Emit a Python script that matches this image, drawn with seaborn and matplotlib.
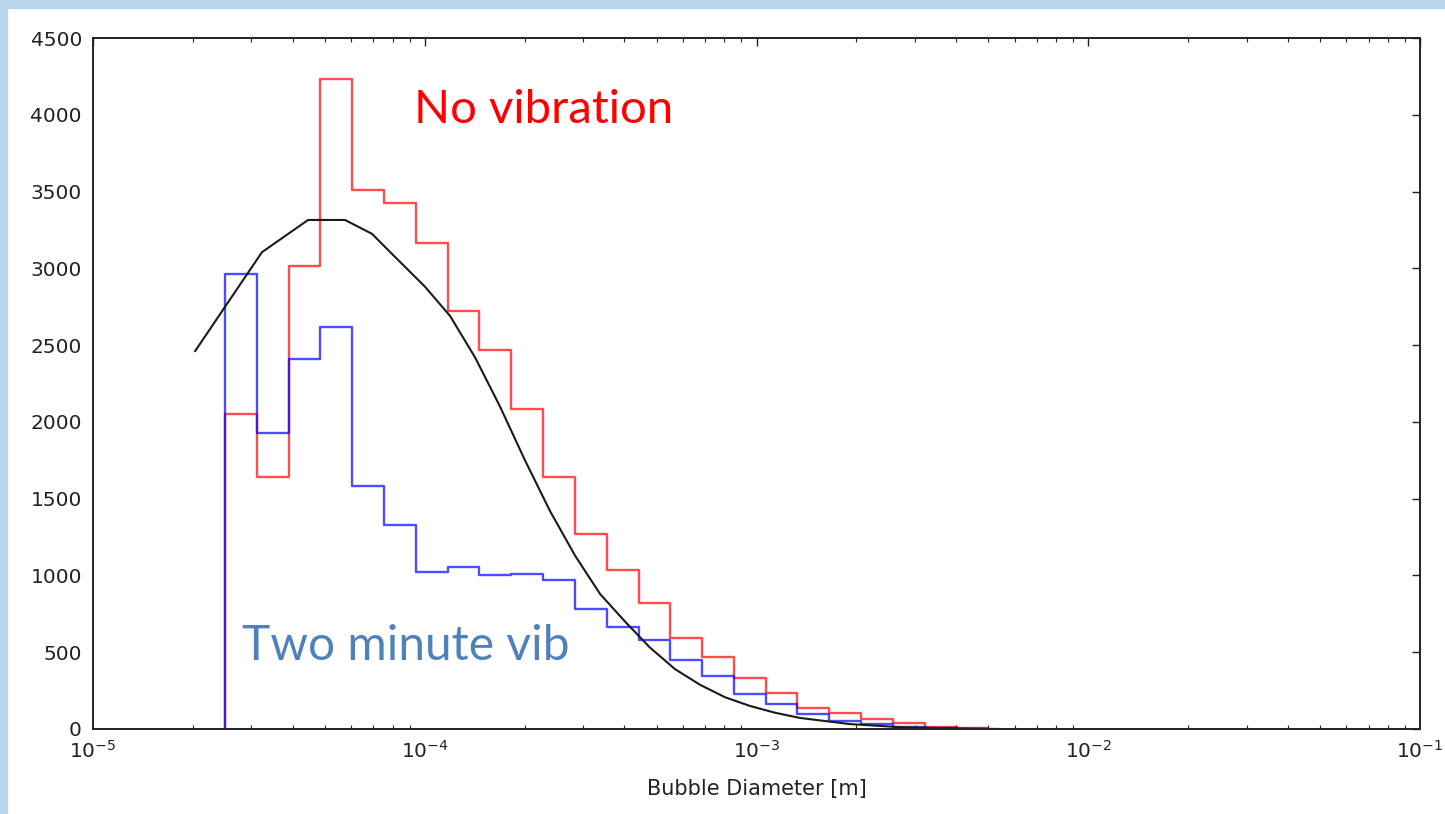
import numpy as np
import pandas as pd
import matplotlib
matplotlib.use("Agg")
import matplotlib.pyplot as plt
from matplotlib.patches import Rectangle
import seaborn as sns

# bin edges of the bubble diameter histogram [m]
bin_edges = [2.500e-5, 3.118e-5, 3.888e-5, 4.848e-5, 6.046e-5, 7.539e-5, 9.401e-5,
             1.172e-4, 1.462e-4, 1.823e-4, 2.273e-4, 2.835e-4, 3.535e-4, 4.409e-4,
             5.498e-4, 6.856e-4, 8.549e-4, 1.066e-3, 1.329e-3, 1.658e-3, 2.067e-3,
             2.578e-3, 3.215e-3, 4.009e-3, 5.000e-3]

no_vib_counts = [2050, 1640, 3015, 4230, 3510, 3425, 3165, 2725, 2470, 2085, 1640, 1272,
                 1035, 820, 595, 467, 330, 235, 135, 105, 65, 38, 14, 5]
two_min_counts = [2960, 1930, 2410, 2620, 1580, 1330, 1020, 1055, 1005, 1012, 970, 782,
                  662, 580, 449, 345, 225, 160, 100, 50, 35, 15, 6, 2]

# fitted distribution (black curve)
fit_x = [2.03e-5, 3.23e-5, 4.45e-5, 5.75e-5, 6.93e-5, 8.13e-5, 1.002e-4, 1.192e-4,
         1.418e-4, 1.686e-4, 2.005e-4, 2.385e-4, 2.837e-4, 3.375e-4, 4.014e-4, 4.775e-4,
         5.680e-4, 6.756e-4, 8.035e-4, 9.559e-4, 1.137e-3, 1.352e-3, 1.913e-3, 2.708e-3,
         3.831e-3, 5.42e-3]
fit_y = [2460, 3105, 3315, 3315, 3225, 3075, 2880, 2690, 2420, 2100, 1750, 1420, 1130,
         880, 700, 530, 390, 288, 207, 150, 106, 72, 32, 12, 4, 0]


def step_frame(edges, counts):
    # outline of a step histogram that starts and ends on the baseline
    xs = [edges[0]] + list(edges)
    ys = [0] + list(counts) + [0]
    return pd.DataFrame({"x": xs, "y": ys})


sns.set_theme(style="white")
plt.rcParams["font.family"] = ["DejaVu Sans"]
plt.rcParams["mathtext.default"] = "regular"

fig = plt.figure(figsize=(14.45, 8.14), dpi=100, facecolor="white")
# light blue slide border (top and left)
fig.patches.append(Rectangle((0, 1 - 8 / 814), 1, 8 / 814, transform=fig.transFigure,
                             color="#B9D7EC", zorder=0))
fig.patches.append(Rectangle((0, 0), 7 / 1445, 1, transform=fig.transFigure,
                             color="#B9D7EC", zorder=0))

ax = fig.add_axes([93 / 1445, 1 - 729 / 814, (1420 - 93) / 1445, (729 - 38) / 814])
ax.set_xscale("log")

red_df = step_frame(bin_edges, no_vib_counts)
blue_df = step_frame(bin_edges, two_min_counts)
fit_df = pd.DataFrame({"x": fit_x, "y": fit_y})

sns.lineplot(data=red_df, x="x", y="y", ax=ax, sort=False, estimator=None,
             drawstyle="steps-post", color="#FF0000", alpha=0.7, linewidth=1.7)
sns.lineplot(data=blue_df, x="x", y="y", ax=ax, sort=False, estimator=None,
             drawstyle="steps-post", color="#0000FF", alpha=0.7, linewidth=1.7)
sns.lineplot(data=fit_df, x="x", y="y", ax=ax, sort=False, estimator=None,
             color="#1a1a1a", linewidth=1.5)

ax.set_xlim(1e-5, 1e-1)
ax.set_ylim(0, 4500)
ax.set_yticks(np.arange(0, 4501, 500))
ax.set_xlabel("Bubble Diameter [m]", fontsize=15, color="#222222", labelpad=12)
ax.set_ylabel("")

for sp in ax.spines.values():
    sp.set_visible(True)
    sp.set_color("#222222")
    sp.set_linewidth(1.4)

ax.tick_params(axis="both", which="major", direction="in", length=6, width=1,
               top=True, right=True, labelsize=14.5, colors="#222222", pad=8)
ax.tick_params(axis="x", which="minor", direction="in", length=3, width=0.8,
               top=True, bottom=True)
ax.tick_params(axis="y", which="minor", left=False, right=False)

ax.text(0.242, 0.877, "No vibration", transform=ax.transAxes, color="#FF0000",
        fontsize=34, family=["Lato", "DejaVu Sans"], ha="left", va="baseline")
ax.text(0.112, 0.100, "Two minute vib", transform=ax.transAxes, color="#4F81BD",
        fontsize=34.5, family=["Lato", "DejaVu Sans"], ha="left", va="baseline")

fig.savefig("out.png", dpi=100, facecolor=fig.get_facecolor())
